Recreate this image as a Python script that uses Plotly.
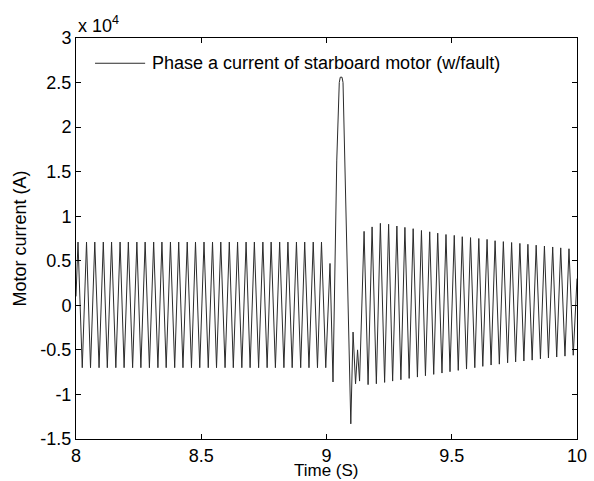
import plotly.graph_objects as go

# ---- data (extrema of the waveform) ----
# pre-fault (t < 9.0): alternating peak / trough
pre_t = [8.000,
         8.008, 8.025, 8.042, 8.058, 8.075, 8.092, 8.109, 8.125, 8.142, 8.159,
         8.176, 8.192, 8.209, 8.226, 8.243, 8.259, 8.276, 8.293, 8.310, 8.327,
         8.343, 8.360, 8.377, 8.394, 8.410, 8.427, 8.444, 8.461, 8.477, 8.494,
         8.511, 8.528, 8.545, 8.561, 8.578, 8.595, 8.612, 8.628, 8.645, 8.662,
         8.679, 8.695, 8.712, 8.729, 8.746, 8.763, 8.779, 8.796, 8.813, 8.830,
         8.846, 8.863, 8.880, 8.897, 8.913, 8.930, 8.947, 8.964, 8.980, 8.997]
pre_i = [1000,
         7100, -7000, 7100, -7000, 7100, -7000, 7100, -7000, 7100, -7000,
         7100, -7000, 7100, -7000, 7100, -7000, 7100, -7000, 7100, -7000,
         7100, -7000, 7100, -7000, 7100, -7000, 7100, -7000, 7100, -7000,
         7100, -7000, 7100, -7000, 7100, -7000, 7100, -7000, 7100, -7000,
         7100, -7000, 7100, -7000, 7100, -7000, 7100, -7000, 7100, -7000,
         7100, -7000, 7100, -7000, 7100, -7000, 7100, -7000, 7100, -7000]

# fault transient
fault_t = [9.014, 9.026, 9.034, 9.041, 9.051, 9.055, 9.062, 9.066,
           9.097, 9.106, 9.116, 9.124, 9.132]
fault_i = [4700, -8600, 3600, 16300, 25000, 25600, 25600, 25000,
           -13300, -3000, -8800, -5000, -8500]

# post-fault: alternating peak / trough, slowly decaying
post_t = [9.150, 9.166, 9.182, 9.199, 9.215, 9.232, 9.248, 9.264, 9.281, 9.297,
          9.313, 9.330, 9.346, 9.363, 9.379, 9.395, 9.412, 9.428, 9.444, 9.461,
          9.477, 9.493, 9.510, 9.526, 9.542, 9.559, 9.575, 9.592, 9.608, 9.624,
          9.641, 9.657, 9.673, 9.690, 9.706, 9.723, 9.739, 9.755, 9.772, 9.788,
          9.804, 9.821, 9.837, 9.854, 9.870, 9.886, 9.903, 9.919, 9.935, 9.952,
          9.968, 9.985, 10.000]
post_i = [8300, -8900, 8800, -8800, 9200, -8650, 9100, -8500, 8900, -8350,
          8750, -8200, 8600, -8050, 8400, -7900, 8250, -7750, 8100, -7600,
          7950, -7450, 7850, -7300, 7700, -7150, 7600, -7000, 7500, -6850,
          7400, -6700, 7250, -6600, 7150, -6450, 7050, -6350, 6950, -6250,
          6850, -6150, 6750, -6000, 6650, -5900, 6550, -5800, 6450, -5700,
          6350, -5600, 3000]

x_ticks = [8, 8.5, 9, 9.5, 10]
x_tick_text = ["8", "8.5", "9", "9.5", "10"]
y_ticks = [-15000, -10000, -5000, 0, 5000, 10000, 15000, 20000, 25000, 30000]
y_tick_text = ["-1.5", "-1", "-0.5", "0", "0.5", "1", "1.5", "2", "2.5", "3"]

series_name = "Phase a current of starboard motor (w/fault)"
x_title = "Time (S)"
y_title = "Motor current (A)"

t = pre_t + fault_t + post_t
i = pre_i + fault_i + post_i

FONT = "Liberation Sans, Arial, sans-serif"
FS = 18
LINE_COLOR = "#2b2b2b"

fig = go.Figure()
fig.add_trace(go.Scatter(x=t, y=i, mode="lines", name=series_name,
                         showlegend=False,
                         line=dict(color=LINE_COLOR, width=1)))

axis_common = dict(showline=True, linecolor="black", linewidth=1, mirror="ticks",
                   ticks="inside", ticklen=5, tickcolor="black", showgrid=False,
                   zeroline=False, automargin=False,
                   tickfont=dict(family=FONT, size=FS, color="black"))

# legend drawn as a line sample + label (MATLAB-style, no box)
leg_y = 0.937
fig.add_shape(type="line", xref="paper", yref="paper",
              x0=0.038, x1=0.138, y0=leg_y, y1=leg_y,
              line=dict(color=LINE_COLOR, width=1))

fig.update_layout(
    width=594, height=481,
    margin=dict(l=76, r=17, t=38, b=42),
    paper_bgcolor="white", plot_bgcolor="white",
    font=dict(family=FONT, size=FS, color="black"),
    xaxis=dict(range=[8, 10], tickvals=x_ticks, ticktext=x_tick_text,
               **axis_common),
    yaxis=dict(range=[-15000, 30000], tickvals=y_ticks, ticktext=y_tick_text,
               title=dict(text=y_title, font=dict(family=FONT, size=FS), standoff=9),
               **axis_common),
    showlegend=False,
    annotations=[
        dict(xref="paper", yref="paper", x=0.147, y=leg_y, xanchor="left",
             yanchor="middle", showarrow=False, text=series_name,
             font=dict(family=FONT, size=FS, color="black")),
        dict(xref="paper", yref="paper", x=0.0, y=1.0, xanchor="left",
             yanchor="bottom", yshift=0, showarrow=False,
             text="x 10<sup>4</sup>", font=dict(family=FONT, size=FS)),
        dict(xref="paper", yref="paper", x=0.5, y=-0.1047, xanchor="center",
             yanchor="bottom", showarrow=False, borderpad=0,
             text=x_title, font=dict(family=FONT, size=17, color="black")),
    ],
)

fig.write_html("out.html",
               config={"displayModeBar": False},
               post_script="document.body.style.margin='0px';"
                           "document.body.style.overflow='hidden';")
